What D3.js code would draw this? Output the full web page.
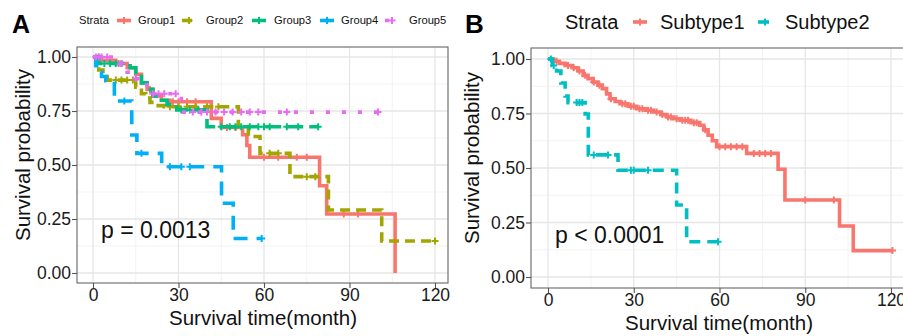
<!DOCTYPE html>
<html>
<head>
<meta charset="utf-8">
<script src="https://cdn.jsdelivr.net/npm/d3@7"></script>
<style>
  body { margin: 0; background: #fff; }
  svg { display: block; font-family: "Liberation Sans", Arial, sans-serif; }
</style>
</head>
<body>
<svg id="chart" width="903" height="336"></svg>
<script>
// tick labels
var xTicks = [0, 30, 60, 90, 120];
var xMinor = [15, 45, 75, 105];
var yTicks = [0, 0.25, 0.5, 0.75, 1];
var yMinor = [0.125, 0.375, 0.625, 0.875];

// panel A strata (time in months, survival after each step)
var groupNames = ["Group1", "Group2", "Group3", "Group4", "Group5"];
var g1Time = [0, 3, 8, 12, 15, 17, 19, 21, 24, 27, 41.5, 45, 52.5, 54, 55, 79.5, 82, 106];
var g1Surv = [1, 0.985, 0.97, 0.95, 0.92, 0.88, 0.85, 0.82, 0.80, 0.793, 0.716, 0.674, 0.64, 0.59, 0.536, 0.404, 0.273, 0.0];
var g1End = 106;
var g1Cens = [2, 5, 9, 20, 28, 30, 33, 36, 47, 50, 60, 65, 71.5, 75, 88, 93];

var g2Time = [0, 1, 2, 3.5, 5, 15, 17, 18.5, 20, 22, 25, 51, 54.5, 58.6, 69.1, 82.6, 101.3];
var g2Surv = [1, 0.96, 0.94, 0.91, 0.893, 0.86, 0.83, 0.81, 0.79, 0.775, 0.77, 0.677, 0.632, 0.554, 0.446, 0.292, 0.148];
var g2End = 120;
var g2Cens = [8, 10, 12, 14, 27, 30, 33, 36, 40, 44, 62, 65, 75, 78, 120];

var g3Time = [0, 2, 13, 15, 17, 19, 21, 23, 26, 29.4, 40];
var g3Surv = [1, 0.97, 0.95, 0.92, 0.88, 0.85, 0.82, 0.80, 0.78, 0.755, 0.677];
var g3End = 79;
var g3Cens = [4, 6, 8, 10, 31, 34, 37, 45, 48, 50, 52, 55, 58, 60, 62, 68, 72, 79];

var g4Time = [0, 1, 2, 3, 4.5, 7.5, 13.6, 15.4, 24.1, 45.1, 49.2];
var g4Surv = [1, 0.96, 0.93, 0.91, 0.89, 0.796, 0.639, 0.554, 0.492, 0.323, 0.16];
var g4End = 59.2;
var g4Cens = [11, 17, 27, 31, 34, 59.2];

var g5Time = [0, 9, 12, 14, 17, 19, 31];
var g5Surv = [1, 0.97, 0.93, 0.90, 0.87, 0.83, 0.745];
var g5End = 100;
var g5Cens = [1, 2, 3, 5, 10, 15, 21, 23, 25, 29, 35, 38, 40, 43, 46, 49, 52, 55, 58, 68, 100];

// panel B strata
var subtypeNames = ["Subtype1", "Subtype2"];
var s1Time = [0, 2, 4, 6, 8.5, 10.5, 12.3, 14, 15.8, 17.5, 19, 20.5, 21.7, 23.5, 25.2, 28, 31, 34, 37, 39.5, 41.5, 44, 46.2, 50, 53.1, 54.5, 56, 57.5, 59, 69.5, 80.5, 82.9, 102, 106.8];
var s1Surv = [1, 0.99, 0.98, 0.97, 0.96, 0.945, 0.925, 0.91, 0.894, 0.88, 0.864, 0.84, 0.818, 0.805, 0.795, 0.783, 0.772, 0.765, 0.757, 0.745, 0.734, 0.726, 0.719, 0.708, 0.696, 0.675, 0.65, 0.625, 0.598, 0.567, 0.494, 0.353, 0.234, 0.121];
var s1End = 120.5;
var s1Cens = [3, 7, 9, 11, 13, 16, 18, 22, 26, 27, 29, 30, 32, 33, 35, 36, 38, 40, 42, 43, 45, 47, 48, 49, 51, 52, 55, 60, 62, 64, 66, 68, 72, 74, 76, 78, 90, 100, 120.5];

var s2Time = [0, 1.5, 3, 4.5, 6, 7, 13, 14.1, 24.5, 45, 48.5];
var s2Surv = [1, 0.97, 0.945, 0.89, 0.83, 0.80, 0.748, 0.56, 0.49, 0.33, 0.162];
var s2End = 59.5;
var s2Cens = [1, 2, 10, 11, 12, 16, 21, 29, 30, 35, 59.5];

var svg = d3.select("#chart");

function survAt(times, surv, t) {
    var i = d3.bisectRight(times, t) - 1;
    return surv[Math.max(0, i)];
}

function drawPanel(p, series, pText) {
    var x = d3.scaleLinear().domain([0, 120]).range(p.xr);
    var y = d3.scaleLinear().domain([0, 1]).range(p.yr);
    var g = svg.append("g");

    // grid
    g.selectAll(".mx").data(xMinor).join("line")
        .attr("x1", d => x(d)).attr("x2", d => x(d))
        .attr("y1", p.y0).attr("y2", p.y1)
        .attr("stroke", "#f0f0f0").attr("stroke-width", 0.8);
    g.selectAll(".my").data(yMinor).join("line")
        .attr("x1", p.x0).attr("x2", p.x1)
        .attr("y1", d => y(d)).attr("y2", d => y(d))
        .attr("stroke", "#f0f0f0").attr("stroke-width", 0.8);
    g.selectAll(".gx").data(xTicks).join("line")
        .attr("x1", d => x(d)).attr("x2", d => x(d))
        .attr("y1", p.y0).attr("y2", p.y1)
        .attr("stroke", "#e6e6e6").attr("stroke-width", 1.3);
    g.selectAll(".gy").data(yTicks).join("line")
        .attr("x1", p.x0).attr("x2", p.x1)
        .attr("y1", d => y(d)).attr("y2", d => y(d))
        .attr("stroke", "#e6e6e6").attr("stroke-width", 1.3);

    var line = d3.line().x(d => x(d[0])).y(d => y(d[1])).curve(d3.curveStepAfter);

    series.forEach(s => {
        var pts = s.time.map((t, i) => [t, s.surv[i]]);
        pts.push([s.end, s.surv[s.surv.length - 1]]);
        g.append("path").datum(pts)
            .attr("d", line)
            .attr("fill", "none")
            .attr("stroke", s.color)
            .attr("stroke-width", 3.6)
            .attr("stroke-dasharray", s.dash)
            .attr("stroke-linejoin", "miter");
        g.selectAll(null).data(s.cens).join("path")
            .attr("transform", d => "translate(" + x(d) + "," + y(survAt(s.time, s.surv, d)) + ")")
            .attr("d", "M-3.5,0h7M0,-3.5v7")
            .attr("stroke", s.color)
            .attr("stroke-width", 2);
    });

    // border
    g.append("rect")
        .attr("x", p.x0).attr("y", p.y0)
        .attr("width", p.x1 - p.x0).attr("height", p.y1 - p.y0)
        .attr("fill", "none").attr("stroke", "#666").attr("stroke-width", 1.1);

    // axes
    var ax = g.append("g").attr("transform", "translate(0," + p.y1 + ")")
        .call(d3.axisBottom(x).tickValues(xTicks).tickSize(5).tickPadding(1).tickFormat(d3.format("d")));
    var ay = g.append("g").attr("transform", "translate(" + p.x0 + ",0)")
        .call(d3.axisLeft(y).tickValues(yTicks).tickSize(5).tickPadding(1).tickFormat(d3.format(".2f")));
    [ax, ay].forEach(a => {
        a.select(".domain").remove();
        a.selectAll(".tick line").attr("stroke", "#555").attr("stroke-width", 1.1);
        a.selectAll(".tick text").attr("font-size", "17.5px").attr("fill", "#1a1a1a")
            .attr("font-family", "\"Liberation Sans\", Arial, sans-serif");
    });

    // titles
    g.append("text").attr("x", p.xTitleX).attr("y", p.xTitleY)
        .attr("text-anchor", "middle").attr("font-size", "20.5px").attr("fill", "#111")
        .text("Survival time(month)");
    g.append("text")
        .attr("transform", "translate(" + p.yTitleX + "," + p.yTitleY + ") rotate(-90)")
        .attr("text-anchor", "middle").attr("font-size", "20.5px").attr("fill", "#111")
        .text("Survival probability");

    g.append("text").attr("x", p.pX).attr("y", p.pY)
        .attr("font-size", "23px").attr("fill", "#111").text(pText);
    g.append("text").attr("x", p.labX).attr("y", p.labY)
        .attr("font-size", p.labSize).attr("font-weight", "bold").attr("fill", "#000")
        .text(p.label);
}

var colA = ["#F8766D", "#A3A500", "#00BF7D", "#00B0F6", "#E76BF3"];
var dashA = [null, "10,6", "16,6", "14,9", "4,12"];
var seriesA = [
    {time: g1Time, surv: g1Surv, end: g1End, cens: g1Cens},
    {time: g2Time, surv: g2Surv, end: g2End, cens: g2Cens},
    {time: g3Time, surv: g3Surv, end: g3End, cens: g3Cens},
    {time: g4Time, surv: g4Surv, end: g4End, cens: g4Cens},
    {time: g5Time, surv: g5Surv, end: g5End, cens: g5Cens}
];
seriesA.forEach((s, i) => { s.color = colA[i]; s.dash = dashA[i]; });

var colB = ["#F8766D", "#00BFC4"];
var dashB = [null, "11,7"];
var seriesB = [
    {time: s1Time, surv: s1Surv, end: s1End, cens: s1Cens},
    {time: s2Time, surv: s2Surv, end: s2End, cens: s2Cens}
];
seriesB.forEach((s, i) => { s.color = colB[i]; s.dash = dashB[i]; });

drawPanel({x0: 77, x1: 448, y0: 47, y1: 283, xr: [93, 435], yr: [273, 57],
    xTitleX: 263, xTitleY: 325, yTitleX: 30, yTitleY: 155,
    pX: 101, pY: 238, label: "A", labX: 12, labY: 33, labSize: "25px"}, seriesA, "p = 0.0013");
drawPanel({x0: 531, x1: 912, y0: 48, y1: 288, xr: [548, 891], yr: [277, 59],
    xTitleX: 719, xTitleY: 330, yTitleX: 479, yTitleY: 158,
    pX: 555, pY: 242.5, label: "B", labX: 465, labY: 33, labSize: "26px"}, seriesB, "p < 0.0001");

// legends
function drawLegend(names, colors, dashes, keyX, textX, yc, size, strataX, keyW) {
    var lg = svg.append("g");
    lg.append("text").attr("x", strataX).attr("y", yc).attr("dy", "0.35em")
        .attr("font-size", size).attr("fill", "#111").text("Strata");
    names.forEach((n, i) => {
        lg.append("line")
            .attr("x1", keyX[i] - keyW / 2).attr("x2", keyX[i] + keyW / 2)
            .attr("y1", yc).attr("y2", yc)
            .attr("stroke", colors[i]).attr("stroke-width", 3.6)
            .attr("stroke-dasharray", dashes[i]);
        lg.append("path")
            .attr("transform", "translate(" + keyX[i] + "," + yc + ")")
            .attr("d", "M-3.5,0h7M0,-3.5v7")
            .attr("stroke", colors[i]).attr("stroke-width", 2);
        lg.append("text").attr("x", textX[i]).attr("y", yc).attr("dy", "0.35em")
            .attr("font-size", size).attr("fill", "#111").text(n);
    });
}
drawLegend(groupNames, colA, dashA, [124, 189, 259, 327, 392], [138, 206, 274, 341, 409], 20.5, "11.2px", 79, 14);
drawLegend(subtypeNames, colB, dashB, [640, 765], [660, 785], 22, "20px", 565, 14);
</script>
</body>
</html>
